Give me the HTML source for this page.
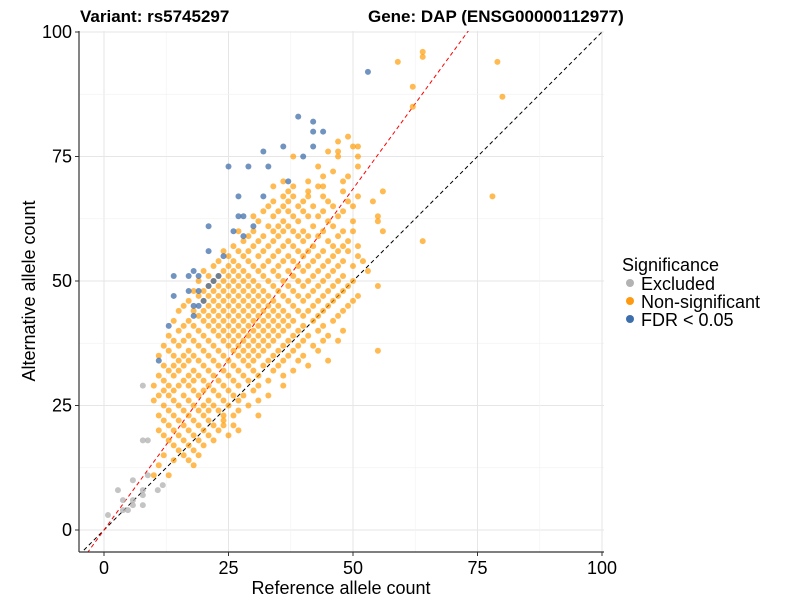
<!DOCTYPE html>
<html><head><meta charset="utf-8"><style>
body{margin:0;background:#fff;}
svg text{font-family:"Liberation Sans",Arial,sans-serif;}
</style></head><body>
<svg id="chart" width="800" height="600" xmlns="http://www.w3.org/2000/svg">
<text x="80" y="22" font-size="17" font-weight="bold">Variant: rs5745297</text>
<text x="368" y="22" font-size="17" font-weight="bold">Gene: DAP (ENSG00000112977)</text>
<defs><clipPath id="pc"><rect x="79" y="31" width="525" height="521"/></clipPath></defs>
<g id="grid"></g>
<g id="lines" clip-path="url(#pc)"></g>
<g id="pts" clip-path="url(#pc)"></g>
<g id="axes"></g>
<text x="341" y="594" font-size="18" text-anchor="middle">Reference allele count</text>
<text transform="translate(35,291) rotate(-90)" font-size="18" text-anchor="middle">Alternative allele count</text>
<g>
<text x="622" y="271" font-size="18">Significance</text>
<circle cx="630" cy="283" r="4" fill="#b3b3b3"/>
<text x="641" y="290" font-size="18">Excluded</text>
<circle cx="630" cy="301" r="4" fill="#ff9a10"/>
<text x="641" y="308" font-size="18">Non-significant</text>
<circle cx="630" cy="319" r="4" fill="#3d6fad"/>
<text x="641" y="326" font-size="18">FDR &lt; 0.05</text>
</g>
</svg>
<script>
const xTicks=[0,25,50,75,100];
const yTicks=[0,25,50,75,100];
const redSlope=1.37;
const excludedPts=[[7.8,29],[7.8,18],[8.8,18],[5.8,10],[8.8,11],[2.8,8],[7.8,8],[10.8,8],[11.8,9],[3.8,6],[5.8,6],[7.8,7],[5.8,5],[7.8,5],[3.8,4],[4.8,4],[0.8,3]];
const fdrPts=[[53,92],[39,83],[42,82],[42,80],[44,80],[42,77],[32,76],[36,77],[40,75],[25,73],[29,73],[33,73],[37,70],[27,67],[32,67],[27,63],[28,63],[21,61],[30,61],[26,60],[28,59],[21,56],[24,55],[14,51],[17,51],[19,51],[18,52],[23,51],[22,50],[21,49],[17,48],[19,48],[14,47],[20,46],[18,45],[19,45],[18,43],[13,41],[11,34]];
const nonsigRows=[
[96,[64]],[95,[64]],[94,[59,79]],[89,[62]],[87,[80]],[85,[62]],[79,[49]],[78,[47]],[77,[50,51]],[76,[45,47]],[75,[38,47,51]],[73,[43,51]],[72,[46]],[71,[44,49]],[70,[36,41,48]],[69,[34,38,43,44]],[68,[37,41,48,56]],[67,[36,38,41,44,51,78]],[66,[34,37,40,45,49,54]],[65,[33,36,39,42,46,50]],[64,[32,35,37,40,44,48]],[63,[30,34,38,41,43,47,55]],[62,[31,36,39,45,50,55]],[61,[33,35,37,42,46]],[60,[27,30,34,36,38,40,44,48,50,56]],[59,[29,32,35,39,41,43,47]],[58,[28,31,34,37,40,45,49,64]],[57,[26,30,33,36,38,42,46,48,51]],[56,[24,27,29,32,35,39,41,44,47,49]],[55,[25,28,31,34,37,40,43,46,51]],[54,[23,26,29,33,36,38,42,45,48,52]],[53,[22,25,27,30,32,35,39,41,44,47,50]],[52,[20,24,26,28,31,34,37,40,43,46,53]],[51,[21,23,25,27,29,32,35,38,42,45,48]],[50,[19,22,24,26,28,30,33,36,39,41,44,47,50]],[49,[21,23,25,27,29,31,34,37,40,43,46,49,55]],[48,[18,20,22,24,26,28,30,32,35,38,42,45,48]],[47,[19,21,23,25,27,29,31,33,36,39,41,44,47,51]],[46,[17,20,22,24,26,28,30,32,34,37,40,43,46,50]],[45,[16,21,23,25,27,29,31,33,35,38,42,45,49]],[44,[15,18,20,22,24,26,28,30,32,34,36,39,41,44,48]],[43,[19,21,23,25,27,29,31,33,35,37,40,43,47]],[42,[14,17,20,22,24,26,28,30,32,34,36,38,42,46]],[41,[16,18,21,23,25,27,29,31,33,35,37,40,44]],[40,[15,19,22,24,26,28,30,32,34,36,39,43,48]],[39,[13,17,20,23,25,27,29,31,33,35,38,41,45]],[38,[14,16,18,21,24,26,28,30,32,34,37,40,44,47]],[37,[12,15,19,22,25,27,29,31,33,36,39,42]],[36,[13,17,20,23,26,28,30,32,35,38,43,55]],[35,[11,14,16,18,21,24,27,29,31,34,37,40]],[34,[15,17,19,22,25,28,30,33,36,39,45]],[33,[12,14,16,20,23,26,29,32,35,41]],[32,[13,15,18,21,24,27,30,34,38]],[31,[11,14,17,19,22,25,28,31,36]],[30,[12,16,18,20,23,26,29,33]],[29,[10,13,15,17,21,24,27,31,36]],[28,[12,14,18,20,22,25,30]],[27,[11,13,16,19,23,26,28,33]],[26,[10,14,17,21,24,27,31]],[25,[12,15,18,20,22,25,29]],[24,[13,16,19,21,23,27]],[23,[11,14,17,20,24,26,31]],[22,[12,15,18,21,24]],[21,[13,16,19,22,24,26]],[20,[11,14,17,20,23,27]],[19,[12,15,18,21,25]],[18,[13,16,19,22]],[17,[14,17,20]],[16,[15,18]],[15,[12,16,19]],[14,[14,17]],[13,[11,18]],[11,[10,13]]];
const NS='http://www.w3.org/2000/svg';
const X0=104,Y0=530,K=4.98;
function sx(v){return X0+K*v;}
function sy(v){return Y0-K*v;}
function mk(tag,attrs,parent){const e=document.createElementNS(NS,tag);for(const k in attrs)e.setAttribute(k,attrs[k]);parent.appendChild(e);return e;}
const grid=document.getElementById('grid'),lines=document.getElementById('lines'),pts=document.getElementById('pts'),axes=document.getElementById('axes');
for(let i=0;i<xTicks.length;i++){
  const v=xTicks[i];
  let g=mk('line',{x1:sx(v),x2:sx(v),y1:31,y2:552,stroke:'#e6e6e6','stroke-width':1},grid);
  
  
  let gy=mk('line',{x1:79,x2:604,y1:sy(yTicks[i]),y2:sy(yTicks[i]),stroke:'#e6e6e6','stroke-width':1},grid);
  
  
  if(i<xTicks.length-1){
    const mx=(xTicks[i]+xTicks[i+1])/2,my=(yTicks[i]+yTicks[i+1])/2;
    let m1=mk('line',{x1:sx(mx),x2:sx(mx),y1:31,y2:552,stroke:'#f2f2f2','stroke-width':0.7},grid);
    
    
    let m2=mk('line',{x1:79,x2:604,y1:sy(my),y2:sy(my),stroke:'#f2f2f2','stroke-width':0.7},grid);
    
    
  }
  let tx=mk('text',{x:sx(v),y:574,'font-size':18,'text-anchor':'middle'},axes);tx.textContent=v;
  
  
  let ty=mk('text',{x:72,y:sy(yTicks[i])+6,'font-size':18,'text-anchor':'end'},axes);ty.textContent=yTicks[i];
  
  
  let t1=mk('line',{x1:sx(v),x2:sx(v),y1:552,y2:556,stroke:'#333'},axes);
  
  
  let t2=mk('line',{x1:75,x2:79,y1:sy(yTicks[i]),y2:sy(yTicks[i]),stroke:'#333'},axes);
  
  
}
let ax=mk('line',{x1:79,x2:79,y1:31,y2:552,stroke:'#333','stroke-width':1.2},axes);


let ax2=mk('line',{x1:79,x2:604,y1:552,y2:552,stroke:'#333','stroke-width':1.2},axes);


let bl=mk('line',{x1:sx(-10),y1:sy(-10),x2:sx(110),y2:sy(110),stroke:'#000','stroke-width':1,'stroke-dasharray':'4,3'},lines);


let rl=mk('line',{x1:sx(-10),y1:sy(-10*redSlope),x2:sx(110/redSlope),y2:sy(110),stroke:'#ff0000','stroke-width':1,'stroke-dasharray':'4,3'},lines);


function dot(x,y,fill,op,name){
  const c=mk('circle',{cx:sx(x),cy:sy(y),r:3,fill:fill,'fill-opacity':op},pts);
  
  
}
excludedPts.forEach(p=>dot(p[0],p[1],'#b0b0b0',0.75,'excluded-point'));
nonsigRows.forEach(r=>r[1].forEach(x=>dot(x,r[0],'#ff9a00',0.68,'nonsignificant-point')));
fdrPts.forEach(p=>dot(p[0],p[1],'#3a6aa8',0.72,'fdr-point'));
</script>
</body></html>
